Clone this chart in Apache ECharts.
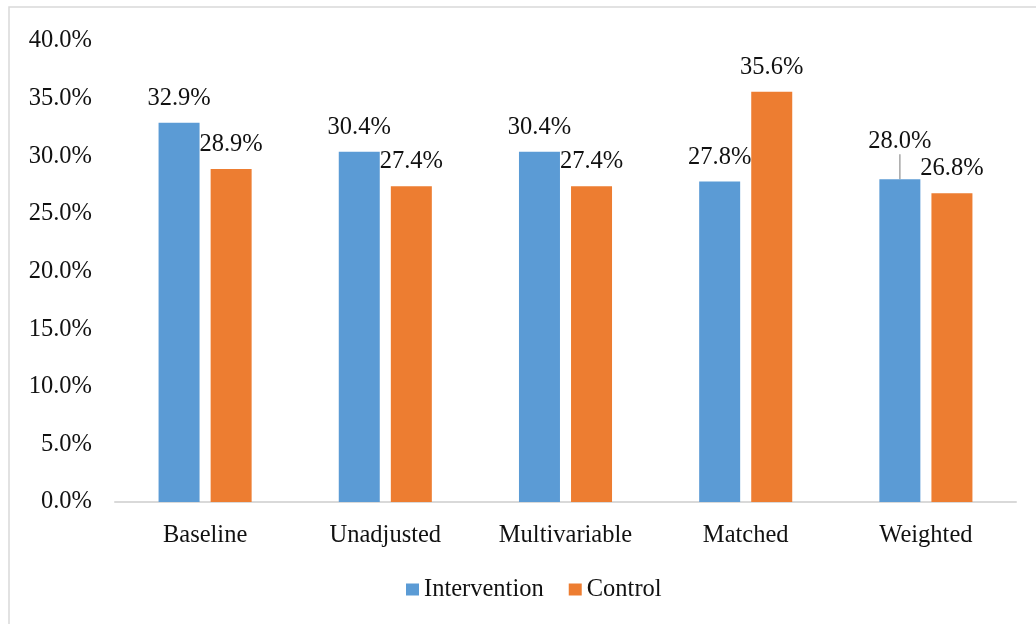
<!DOCTYPE html>
<html>
<head>
<meta charset="utf-8">
<script src="https://cdn.jsdelivr.net/npm/echarts@6/dist/echarts.min.js"></script>
<style>
  html, body { margin: 0; padding: 0; background: #fff; }
  #chart { width: 1036px; height: 624px; }
</style>
</head>
<body>
<div id="chart"></div>
<script>
// Share of patients by analysis method, intervention vs control (%)
const categories = ['Baseline', 'Unadjusted', 'Multivariable', 'Matched', 'Weighted'];
const interventionValues = [32.9, 30.4, 30.4, 27.8, 28.0];
const controlValues = [28.9, 27.4, 27.4, 35.6, 26.8];
const seriesNames = ['Intervention', 'Control'];
const yTicks = { min: 0, max: 40, interval: 5 };

const FONT = '"Liberation Serif", "Times New Roman", serif';
const FS = 24.5;
const TEXT = '#111';
const pct = v => Number(v).toFixed(1) + '%';

const chart = echarts.init(document.getElementById('chart'));

function labelStyle() {
  return {
    show: true,
    position: 'top',
    distance: 12,
    color: TEXT,
    fontFamily: FONT,
    fontSize: FS,
    formatter: p => pct(p.value)
  };
}

// The last intervention label sits higher, tied back to its bar by a short line
const liftedIndex = interventionValues.length - 1;
const interventionData = interventionValues.map((v, i) => (
  i === liftedIndex
    ? { value: v, labelLine: { show: true, lineStyle: { color: '#a6a6a6', width: 1.5 } } }
    : v
));

chart.setOption({
  backgroundColor: '#fff',
  animation: false,
  graphic: [{
    type: 'rect',
    shape: { x: 9, y: 7, width: 1040, height: 640 },
    style: { fill: 'none', stroke: '#d9d9d9', lineWidth: 1.5 },
    silent: true, z: -10
  }],
  grid: { left: 115, right: 20, top: 41, bottom: 122, containLabel: false },
  legend: {
    data: seriesNames,
    bottom: 17,
    left: 401,
    itemWidth: 13,
    itemHeight: 12,
    itemGap: 25,
    icon: 'rect',
    textStyle: { color: TEXT, fontFamily: FONT, fontSize: FS }
  },
  xAxis: {
    type: 'category',
    data: categories,
    axisLine: { show: true, lineStyle: { color: '#d9d9d9', width: 2 } },
    axisTick: { show: false },
    axisLabel: { color: TEXT, fontFamily: FONT, fontSize: FS, margin: 21 }
  },
  yAxis: {
    type: 'value',
    min: yTicks.min,
    max: yTicks.max,
    interval: yTicks.interval,
    axisLine: { show: false },
    axisTick: { show: false },
    splitLine: { show: false },
    axisLabel: { color: TEXT, fontFamily: FONT, fontSize: FS, margin: 23, formatter: v => pct(v) }
  },
  series: [
    {
      name: seriesNames[0],
      type: 'bar',
      data: interventionData,
      barWidth: 41,
      barGap: '27%',
      itemStyle: { color: '#5B9BD5' },
      label: labelStyle(),
      labelLayout: p => (p.dataIndex === liftedIndex ? { dy: -13 } : {})
    },
    {
      name: seriesNames[1],
      type: 'bar',
      data: controlValues,
      barWidth: 41,
      barGap: '27%',
      itemStyle: { color: '#ED7D31' },
      label: labelStyle()
    }
  ]
});
</script>
</body>
</html>
